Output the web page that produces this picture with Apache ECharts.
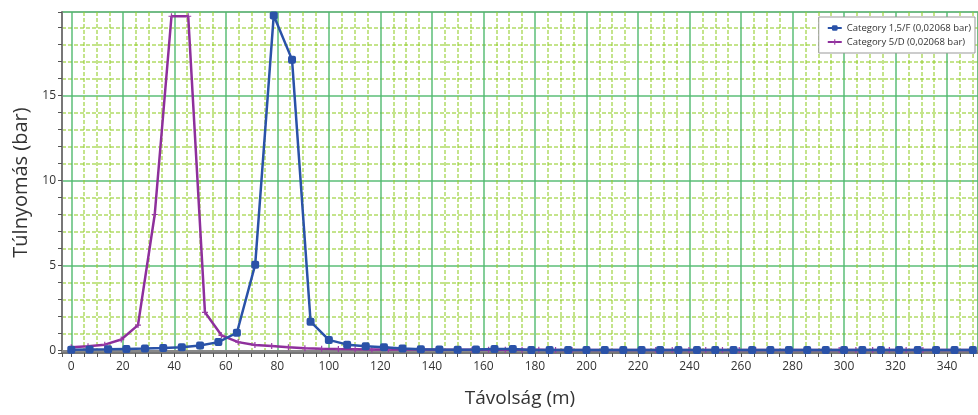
<!DOCTYPE html>
<html>
<head>
<meta charset="utf-8">
<script src="https://cdn.jsdelivr.net/npm/echarts@6/dist/echarts.min.js"></script>
<style>
  html, body { margin: 0; padding: 0; background: #fff; }
  #chart { width: 978px; height: 415px; }
</style>
</head>
<body>
<div id="chart"></div>
<script>
// distances (m) and overpressure (bar)
var blueX = [0, 7.1, 14.3, 21.4, 28.6, 35.7, 42.9, 50, 57.1, 64.3, 71.4, 78.6, 85.7, 92.9, 100,
  107.1, 114.3, 121.4, 128.6, 135.7, 142.9, 150, 157.1, 164.3, 171.4, 178.6, 185.7, 192.9, 200,
  207.1, 214.3, 221.4, 228.6, 235.7, 242.9, 250, 257.1, 264.3, 271.4, 278.6, 285.7, 292.9, 300,
  307.1, 314.3, 321.4, 328.6, 335.7, 342.9, 350];
var blueY = [0.05, 0.07, 0.08, 0.1, 0.12, 0.15, 0.2, 0.3, 0.5, 1.05, 5.05, 19.7, 17.1, 1.7, 0.63,
  0.35, 0.25, 0.2, 0.12, 0.08, 0.06, 0.05, 0.06, 0.1, 0.1, 0.03, 0.03, 0.03, 0.03,
  0.03, 0.03, 0.03, 0.03, 0.03, 0.03, 0.03, 0.03, 0.03, 0.03, 0.03, 0.03, 0.03, 0.03,
  0.03, 0.03, 0.03, 0.03, 0.03, 0.03, 0.03];

var purpleX = [0, 6.5, 13, 19.4, 25.9, 32.4, 38.9, 45.4, 51.9, 58.3, 64.8, 71.3, 77.8, 84.3, 90.7,
  97.2, 103.7, 110.2, 116.7, 123.1, 129.6, 136.1, 142.6, 149.1, 155.6, 162, 168.5, 175, 181.5,
  188, 194.4, 200.9, 207.4, 213.9, 220.4, 226.9, 233.3, 239.8, 246.3, 252.8, 259.3, 265.7, 272.2,
  278.7, 285.2, 291.7, 298.1, 304.6, 311.1, 317.6, 324.1, 330.6, 337, 343.5, 350];
var purpleY = [0.2, 0.25, 0.35, 0.65, 1.5, 8.0, 19.65, 19.65, 2.25, 0.9, 0.5, 0.33, 0.27, 0.2, 0.14,
  0.11, 0.09, 0.08, 0.07, 0.07, 0.06, 0.06, 0.05, 0.05, 0.05, 0.05, 0.05, 0.05, 0.05,
  0.04, 0.04, 0.04, 0.04, 0.04, 0.04, 0.04, 0.04, 0.04, 0.04, 0.04, 0.04, 0.04, 0.04,
  0.04, 0.04, 0.04, 0.04, 0.04, 0.04, 0.04, 0.04, 0.04, 0.04, 0.04, 0.04];

var seriesNames = ['Category 1,5/F (0,02068 bar)', 'Category 5/D (0,02068 bar)'];

function pairs(xs, ys) {
  return xs.map(function (x, i) { return [x, ys[i]]; });
}

var font = '"Open Sans", "Noto Sans", sans-serif';
var majorLine = { lineStyle: { color: 'rgba(80,185,110,0.7)', width: 2 } };
var minorLine = { lineStyle: { color: 'rgba(150,205,50,0.75)', width: 1.5, type: [4, 2] } };

var chart = echarts.init(document.getElementById('chart'));
chart.setOption({
  animation: false,
  textStyle: { fontFamily: font },
  grid: { left: 62, right: 0, top: 12, bottom: 62, show: true, borderColor: '#888', borderWidth: 1 },
  legend: {
    right: 3, top: 17, orient: 'vertical',
    backgroundColor: '#fff', borderColor: '#999', borderWidth: 1,
    padding: [6, 4, 6, 8], itemGap: 4,
    itemWidth: 14, itemHeight: 7,
    textStyle: { fontSize: 9.5, color: '#333', fontFamily: font },
    data: seriesNames
  },
  xAxis: [{
    type: 'value', min: -3.6, max: 352, splitNumber: 18,
    name: 'Távolság (m)', nameLocation: 'middle', nameGap: 36,
    nameTextStyle: { fontSize: 19, color: '#333' },
    axisLine: { show: true, onZero: false, lineStyle: { color: '#777', width: 2 } },
    axisTick: { show: true, length: 4, lineStyle: { color: '#555' } },
    minorTick: { show: true, splitNumber: 4, length: 4, lineStyle: { color: '#555' } },
    axisLabel: { fontSize: 12, color: '#333', margin: 8, showMinLabel: false, showMaxLabel: false },
    splitLine: majorLine,
    minorSplitLine: Object.assign({ show: true }, minorLine)
  }, {
    type: 'value', position: 'top', min: 0, max: 1,
    axisLine: { show: true, lineStyle: { color: '#888', width: 2 } },
    axisTick: { show: false }, axisLabel: { show: false }, splitLine: { show: false }
  }],
  yAxis: {
    type: 'value', min: -0.14, max: 19.9, splitNumber: 4,
    name: 'Túlnyomás (bar)', nameLocation: 'middle', nameGap: 30,
    nameTextStyle: { fontSize: 20, color: '#333' },
    axisLine: { show: true, onZero: false, lineStyle: { color: '#777', width: 2 } },
    axisTick: { show: true, length: 4, lineStyle: { color: '#555' } },
    minorTick: { show: true, splitNumber: 5, length: 4, lineStyle: { color: '#555' } },
    axisLabel: { fontSize: 12, color: '#333', margin: 6, showMinLabel: false, showMaxLabel: false },
    splitLine: majorLine,
    minorSplitLine: Object.assign({ show: true }, minorLine)
  },
  series: [{
    name: seriesNames[0], type: 'line', xAxisIndex: 0,
    data: pairs(blueX, blueY),
    symbol: 'roundRect', symbolSize: 8,
    itemStyle: { color: '#2a52a8' },
    lineStyle: { color: '#2a52a8', width: 2.5 },
    z: 3
  }, {
    name: seriesNames[1], type: 'line', xAxisIndex: 0,
    data: pairs(purpleX, purpleY),
    symbol: 'path://M0,4L10,4L10,6L0,6Z M4,0L6,0L6,10L4,10Z', symbolSize: 6,
    itemStyle: { color: '#9a3ca6' },
    lineStyle: { color: '#8e2f9c', width: 2.5 },
    z: 2
  }]
});
</script>
</body>
</html>
